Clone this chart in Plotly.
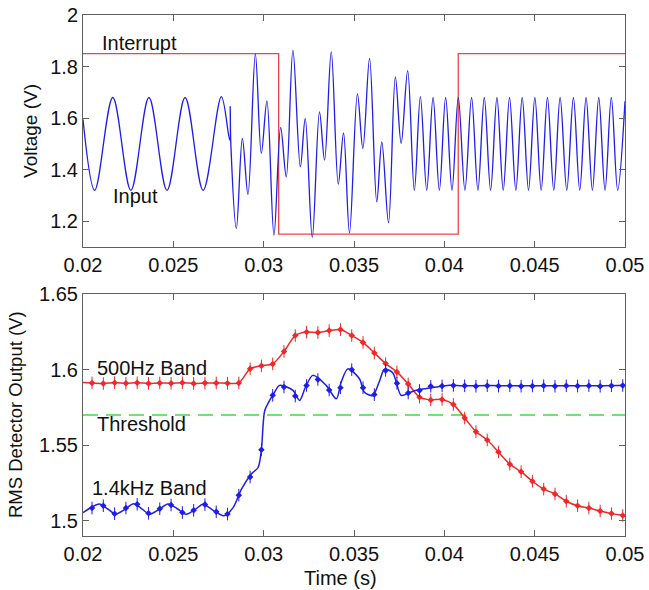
import plotly.graph_objects as go

# ---------------- Top panel data ----------------
input_t = [0.02, 0.02065, 0.02165, 0.02265, 0.02365, 0.02465, 0.02565, 0.02665, 0.02766,
           0.02812, 0.02815, 0.02818, 0.02849, 0.02882, 0.02913, 0.02954, 0.02987, 0.03018,
           0.03057, 0.03094, 0.03125, 0.03162, 0.03203, 0.0323, 0.03269, 0.03309, 0.03337,
           0.03374, 0.03413, 0.03442, 0.03475, 0.03519, 0.03549, 0.03586, 0.03626, 0.03654,
           0.03691, 0.03729, 0.03761, 0.03797, 0.03834, 0.038674,
           0.039025, 0.039376, 0.039724, 0.040072, 0.040423, 0.040773, 0.04114, 0.041508,
           0.041859, 0.04221, 0.042561, 0.042912, 0.04326, 0.043608, 0.043959, 0.044309,
           0.04466, 0.045011, 0.045359, 0.045707, 0.046058, 0.046409, 0.046777, 0.047144,
           0.047495, 0.047845, 0.048196, 0.048547, 0.048895, 0.049243, 0.049594, 0.05]
input_v = [1.595, 1.32, 1.68, 1.32, 1.68, 1.32, 1.68, 1.32, 1.683,
           1.515, 1.645, 1.505, 1.172, 1.521, 1.304, 1.849, 1.463, 1.667,
           1.146, 1.564, 1.372, 1.864, 1.411, 1.599, 1.137, 1.624, 1.437,
           1.857, 1.344, 1.543, 1.155, 1.694, 1.482, 1.832, 1.275, 1.508,
           1.194, 1.760, 1.502, 1.784, 1.320, 1.683,
           1.32, 1.68, 1.32, 1.68, 1.32, 1.68, 1.32, 1.68,
           1.32, 1.68, 1.32, 1.68, 1.32, 1.68, 1.32, 1.68,
           1.32, 1.68, 1.32, 1.68, 1.32, 1.68, 1.32, 1.68,
           1.32, 1.68, 1.32, 1.68, 1.32, 1.68, 1.32, 1.665]

interrupt_t = [0.02, 0.03083, 0.04077, 0.05]
interrupt_v = [1.85, 1.15, 1.85, 1.85]

# ---------------- Bottom panel data ----------------
grid_t0 = 0.0205
grid_dt = 0.000625
grid_t = [round(grid_t0 + k * grid_dt, 6) for k in range(48)]

band500_v = [1.5912, 1.5908, 1.5914, 1.5910, 1.5913, 1.5909, 1.5912, 1.5910, 1.5913, 1.5909,
             1.5911, 1.5912, 1.5910, 1.5912, 1.6005, 1.6025, 1.6038, 1.6120, 1.6225, 1.6248,
             1.6245, 1.6258, 1.6265, 1.6225, 1.6180, 1.6110, 1.6040, 1.5985, 1.5905, 1.5818,
             1.5800, 1.5803, 1.5770, 1.5680, 1.5590, 1.5535, 1.5455, 1.5375, 1.5325, 1.5262,
             1.5210, 1.5178, 1.5130, 1.5100, 1.5085, 1.5065, 1.5048, 1.5036]
band500_start = 1.5915
band500_end = 1.5033

band14_t = [0.02, 0.0204, 0.0209, 0.0213, 0.0218, 0.0223, 0.0228, 0.0232, 0.0237, 0.0242,
            0.0247, 0.0252, 0.0257, 0.0262, 0.02665, 0.0272, 0.0278, 0.0283, 0.02877, 0.02932,
            0.02969, 0.02987, 0.03006, 0.03033, 0.0306, 0.03088, 0.03162, 0.03199, 0.0323,
            0.03272, 0.03346, 0.03402, 0.0343, 0.03466, 0.0353, 0.03558, 0.03604, 0.0364,
            0.03669, 0.03714, 0.03761, 0.038, 0.03844, 0.039, 0.03954, 0.04028, 0.041, 0.0425,
            0.044, 0.046, 0.048, 0.05]
band14_v = [1.5055, 1.5085, 1.5112, 1.5085, 1.5045, 1.5075, 1.5113, 1.5085, 1.5044, 1.5075,
            1.5112, 1.5082, 1.5044, 1.5075, 1.5110, 1.5070, 1.5034, 1.5086, 1.5210, 1.5310,
            1.5353, 1.5464, 1.5730, 1.5796, 1.5850, 1.5896, 1.5863, 1.5796, 1.5880,
            1.5962, 1.5896, 1.5807, 1.5920, 1.6005, 1.5940, 1.5850, 1.5829, 1.5920,
            1.6002, 1.5980, 1.5829, 1.5845, 1.5863, 1.5875, 1.5885, 1.5896, 1.5893, 1.5895,
            1.5893, 1.5894, 1.5893, 1.5897]
band14_marks = [1.5085, 1.5100, 1.5047, 1.5085, 1.5110, 1.5050, 1.5080, 1.5105, 1.5055, 1.5070,
                1.5108, 1.5060, 1.5045, 1.5170, 1.5290, 1.5470, 1.5830, 1.5885, 1.5825, 1.5895,
                1.5935, 1.5865, 1.5880, 1.6000, 1.5880, 1.5835, 1.5995, 1.5910, 1.5845, 1.5862,
                1.5890, 1.5892, 1.5895, 1.5893, 1.5890, 1.5894, 1.5891, 1.5893, 1.5890, 1.5892,
                1.5894, 1.5890, 1.5893, 1.5891, 1.5894, 1.5890, 1.5893, 1.5895]

threshold_v = 1.57

x_ticks = [0.02, 0.025, 0.03, 0.035, 0.04, 0.045, 0.05]
top_yticks = [1.2, 1.4, 1.6, 1.8, 2]
bot_yticks = [1.5, 1.55, 1.6, 1.65]

BLUE = "#1e1ee6"
RED = "#f02828"
GREEN = "#3ede3e"
FONT = "Liberation Sans, Arial, sans-serif"

fig = go.Figure()

# top
fig.add_trace(go.Scatter(x=interrupt_t, y=interrupt_v, mode="lines", line=dict(color="#f04545", width=1.3, shape="hv"),
                         xaxis="x", yaxis="y", showlegend=False))
fig.add_trace(go.Scatter(x=input_t, y=input_v, mode="lines", line=dict(color=BLUE, width=1.3, shape="spline", smoothing=1),
                         xaxis="x", yaxis="y", showlegend=False))

# bottom
fig.add_trace(go.Scatter(x=[0.02, 0.05], y=[threshold_v, threshold_v], mode="lines",
                         line=dict(color=GREEN, width=1.3, dash="15px,8px"), xaxis="x2", yaxis="y2", showlegend=False))


def band(times, values, mark_t, mark_v, color):
    fig.add_trace(go.Scatter(x=times, y=values, mode="lines",
                             line=dict(color=color, width=1.5, shape="spline", smoothing=0.8),
                             xaxis="x2", yaxis="y2", showlegend=False))
    fig.add_trace(go.Scatter(x=mark_t, y=mark_v, mode="markers",
                             marker=dict(symbol="line-ns", size=9, line=dict(color=color, width=1)),
                             xaxis="x2", yaxis="y2", showlegend=False))
    fig.add_trace(go.Scatter(x=mark_t, y=mark_v, mode="markers",
                             marker=dict(symbol="diamond", size=5, color=color, line=dict(width=0)),
                             xaxis="x2", yaxis="y2", showlegend=False))


band([0.02] + grid_t + [0.05], [band500_start] + band500_v + [band500_end], grid_t, band500_v, RED)
band(band14_t, band14_v, grid_t, band14_marks, BLUE)

axis_common = dict(showgrid=False, zeroline=False, showline=True, linecolor="#606060", linewidth=1,
                   mirror="ticks", ticks="inside", ticklen=6, tickcolor="#606060", automargin=False,
                   tickfont=dict(family=FONT, size=20, color="#111"))

L, R, T, B = 83, 24, 15, 54
W, H = 649, 590
pw = W - L - R


def paper_x(px):
    return (px - L) / pw


fig.update_layout(
    width=W, height=H,
    margin=dict(l=L, r=R, t=T, b=B),
    paper_bgcolor="white", plot_bgcolor="white",
    font=dict(family=FONT, size=20, color="#111"),
    xaxis=dict(domain=[0, 1], range=[0.02, 0.05], tickvals=x_ticks, anchor="y", **axis_common),
    yaxis=dict(domain=[0.5547, 1], range=[1.1, 2], tickvals=top_yticks, anchor="x", **axis_common),
    xaxis2=dict(domain=[0, 1], range=[0.02, 0.05], tickvals=x_ticks, anchor="y2", **axis_common),
    yaxis2=dict(domain=[0, 0.4645], range=[1.49, 1.65], tickvals=bot_yticks, anchor="x2", **axis_common),
    annotations=[
        dict(x=0.02094, y=1.891, xref="x", yref="y", text="Interrupt", showarrow=False, xanchor="left", yanchor="middle"),
        dict(x=0.02153, y=1.299, xref="x", yref="y", text="Input", showarrow=False, xanchor="left", yanchor="middle"),
        dict(x=0.02066, y=1.6009, xref="x2", yref="y2", text="500Hz Band", showarrow=False, xanchor="left", yanchor="middle"),
        dict(x=0.02066, y=1.5643, xref="x2", yref="y2", text="Threshold", showarrow=False, xanchor="left", yanchor="middle"),
        dict(x=0.02039, y=1.5218, xref="x2", yref="y2", text="1.4kHz Band", showarrow=False, xanchor="left", yanchor="middle"),
        dict(x=paper_x(31), y=0.7774, xref="paper", yref="paper", text="Voltage (V)", textangle=-90,
             showarrow=False, xanchor="center", yanchor="middle", font=dict(size=19)),
        dict(x=paper_x(15), y=0.2322, xref="paper", yref="paper", text="RMS Detector Output (V)", textangle=-90,
             showarrow=False, xanchor="center", yanchor="middle", font=dict(size=18.5)),
        dict(x=paper_x(340), y=-(578 - 536) / (H - T - B), xref="paper", yref="paper", text="Time (s)",
             showarrow=False, xanchor="center", yanchor="middle", font=dict(size=20)),
    ],
)

fig.write_html("out.html")
